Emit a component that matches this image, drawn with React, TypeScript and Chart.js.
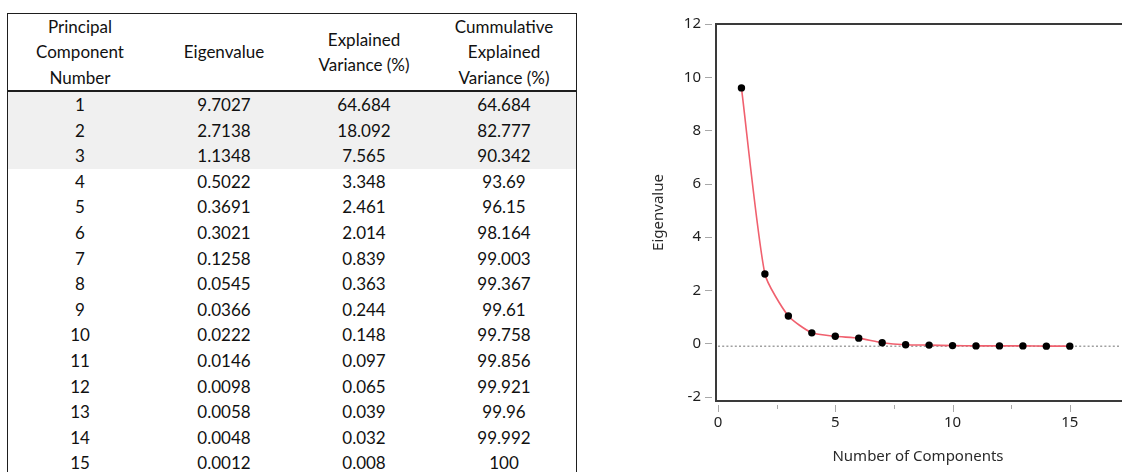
import React, { useEffect, useRef } from 'react';
import { Chart, registerables } from 'chart.js';

Chart.register(...registerables);

// ---------- Table data ----------
const HEADERS: string[][] = [
  ['Principal', 'Component', 'Number'],
  ['Eigenvalue'],
  ['Explained', 'Variance (%)'],
  ['Cummulative', 'Explained', 'Variance (%)'],
];
const COMPONENTS = [1, 2, 3, 4, 5, 6, 7, 8, 9, 10, 11, 12, 13, 14, 15];
const EIGENVALUES = ['9.7027', '2.7138', '1.1348', '0.5022', '0.3691', '0.3021', '0.1258', '0.0545', '0.0366', '0.0222', '0.0146', '0.0098', '0.0058', '0.0048', '0.0012'];
const EXPLAINED = ['64.684', '18.092', '7.565', '3.348', '2.461', '2.014', '0.839', '0.363', '0.244', '0.148', '0.097', '0.065', '0.039', '0.032', '0.008'];
const CUMULATIVE = ['64.684', '82.777', '90.342', '93.69', '96.15', '98.164', '99.003', '99.367', '99.61', '99.758', '99.856', '99.921', '99.96', '99.992', '100'];
const HIGHLIGHTED_ROWS = 3;

// ---------- Chart data ----------
const PLOTTED_EIGENVALUES = [9.60, 2.61, 1.03, 0.40, 0.27, 0.20, 0.03, -0.05, -0.06, -0.08, -0.09, -0.09, -0.09, -0.10, -0.10];
const X_TICKS = [0, 5, 10, 15];
const X_MINOR_TICKS = [2.5, 7.5, 12.5];
const Y_TICKS = [-2, 0, 2, 4, 6, 8, 10, 12];
const REFERENCE_LINE = -0.1;
const X_TITLE = 'Number of Components';
const Y_TITLE = 'Eigenvalue';

const TABLE_FONT = 'Lato, "Noto Sans", sans-serif';
const CHART_FONT = '"Noto Sans", "Open Sans", sans-serif';
const COL_WIDTHS = [144, 144, 136, 144];
const ROW_H = 25.6;
const HEAD_LINE_H = 25.3;

const framePlugin = {
  id: 'frameAndTicks',
  beforeDatasetsDraw(chart: any) {
    const { ctx, chartArea: a, scales } = chart;
    const y = scales.y;
    const yr = y.getPixelForValue(REFERENCE_LINE);
    ctx.save();
    ctx.strokeStyle = '#a0a0a0';
    ctx.lineWidth = 1.5;
    ctx.setLineDash([2, 2.2]);
    ctx.beginPath();
    ctx.moveTo(a.left + 2, yr);
    ctx.lineTo(a.right, yr);
    ctx.stroke();
    ctx.restore();
  },
  afterDraw(chart: any) {
    const { ctx, chartArea: a, scales } = chart;
    const x = scales.x;
    const y = scales.y;
    ctx.save();
    // frame (top, left, bottom)
    ctx.strokeStyle = '#3a3a3a';
    ctx.lineWidth = 2;
    ctx.beginPath();
    ctx.moveTo(a.right + 2, a.top);
    ctx.lineTo(a.left, a.top);
    ctx.lineTo(a.left, a.bottom);
    ctx.lineTo(a.right + 2, a.bottom);
    ctx.stroke();
    // y tick marks
    ctx.strokeStyle = '#a8a8a8';
    ctx.lineWidth = 1;
    ctx.beginPath();
    Y_TICKS.forEach((v) => {
      const py = Math.round(y.getPixelForValue(v)) + 0.5;
      ctx.moveTo(a.left - 11, py);
      ctx.lineTo(a.left - 4, py);
    });
    // x tick marks
    X_TICKS.forEach((v) => {
      const px = Math.round(x.getPixelForValue(v)) + 0.5;
      ctx.moveTo(px, a.bottom + 4);
      ctx.lineTo(px, a.bottom + 11);
    });
    X_MINOR_TICKS.forEach((v) => {
      const px = Math.round(x.getPixelForValue(v)) + 0.5;
      ctx.moveTo(px, a.bottom + 4);
      ctx.lineTo(px, a.bottom + 8);
    });
    ctx.stroke();
    ctx.restore();
  },
};

function ScreeChart() {
  const ref = useRef<HTMLCanvasElement | null>(null);
  useEffect(() => {
    if (!ref.current) return;
    const chart = new Chart(ref.current, {
      type: 'line',
      data: {
        datasets: [
          {
            data: COMPONENTS.map((c, i) => ({ x: c, y: PLOTTED_EIGENVALUES[i] })),
            borderColor: '#f0606e',
            borderWidth: 1.6,
            pointRadius: 3.7,
            pointBackgroundColor: '#000000',
            pointBorderWidth: 0,
            tension: 0.2,
            fill: false,
          },
        ],
      },
      options: {
        animation: false,
        responsive: true,
        maintainAspectRatio: false,
        layout: { padding: { top: 22, right: 0, bottom: 0, left: 0 } },
        plugins: { legend: { display: false }, tooltip: { enabled: false } },
        scales: {
          x: {
            type: 'linear',
            min: -0.085,
            max: 17.14,
            afterBuildTicks: (s: any) => {
              s.ticks = X_TICKS.map((v) => ({ value: v }));
            },
            afterFit: (s: any) => {
              s.height = 71;
            },
            grid: { display: false, drawTicks: false },
            border: { display: false },
            ticks: { padding: 13, color: '#1e1e1e', font: { family: CHART_FONT, size: 15 }, maxRotation: 0 },
            title: {
              display: true,
              text: X_TITLE,
              color: '#2a2a2a',
              font: { family: CHART_FONT, size: 15 },
              padding: { top: 0, bottom: 6 },
            },
          },
          y: {
            min: -2.16,
            max: 12,
            afterBuildTicks: (s: any) => {
              s.ticks = Y_TICKS.map((v) => ({ value: v }));
            },
            afterFit: (s: any) => {
              s.width = 86;
            },
            grid: { display: false, drawTicks: false },
            border: { display: false },
            ticks: { padding: 15, color: '#1e1e1e', font: { family: CHART_FONT, size: 15 } },
            title: {
              display: true,
              text: Y_TITLE,
              color: '#2a2a2a',
              font: { family: CHART_FONT, size: 15 },
              padding: { top: 20, bottom: 0 },
            },
          },
        },
      },
      plugins: [framePlugin],
    } as any);
    return () => chart.destroy();
  }, []);
  return <canvas ref={ref} />;
}

function DataTable() {
  const cell = (w: number): React.CSSProperties => ({
    width: w,
    textAlign: 'center',
    flex: 'none',
  });
  return (
    <div
      style={{
        position: 'absolute',
        left: 7,
        top: 13,
        width: 570,
        height: 480,
        boxSizing: 'border-box',
        border: '1px solid #1e1e1e',
        fontFamily: TABLE_FONT,
        fontSize: 17,
        color: '#111111',
        background: '#ffffff',
      }}
    >
      <div
        style={{
          display: 'flex',
          height: 76,
          borderBottom: '2px solid #1e1e1e',
        }}
      >
        {HEADERS.map((lines, i) => (
          <div
            key={i}
            style={{
              ...cell(COL_WIDTHS[i]),
              display: 'flex',
              flexDirection: 'column',
              justifyContent: 'center',
              lineHeight: HEAD_LINE_H + 'px',
            }}
          >
            {lines.map((l, j) => (
              <div key={j}>{l}</div>
            ))}
          </div>
        ))}
      </div>
      {COMPONENTS.map((c, r) => (
        <div
          key={c}
          style={{
            display: 'flex',
            height: ROW_H,
            lineHeight: ROW_H + 'px',
            background: r < HIGHLIGHTED_ROWS ? '#f0f0f0' : '#ffffff',
          }}
        >
          <div style={cell(COL_WIDTHS[0])}>{c}</div>
          <div style={cell(COL_WIDTHS[1])}>{EIGENVALUES[r]}</div>
          <div style={cell(COL_WIDTHS[2])}>{EXPLAINED[r]}</div>
          <div style={cell(COL_WIDTHS[3])}>{CUMULATIVE[r]}</div>
        </div>
      ))}
    </div>
  );
}

export default function App() {
  return (
    <div
      style={{
        position: 'absolute',
        left: 0,
        top: 0,
        width: 1124,
        height: 472,
        overflow: 'hidden',
        background: '#ffffff',
      }}
    >
      <DataTable />
      <div style={{ position: 'absolute', left: 630, top: 0, width: 494, height: 472 }}>
        <ScreeChart />
      </div>
    </div>
  );
}
